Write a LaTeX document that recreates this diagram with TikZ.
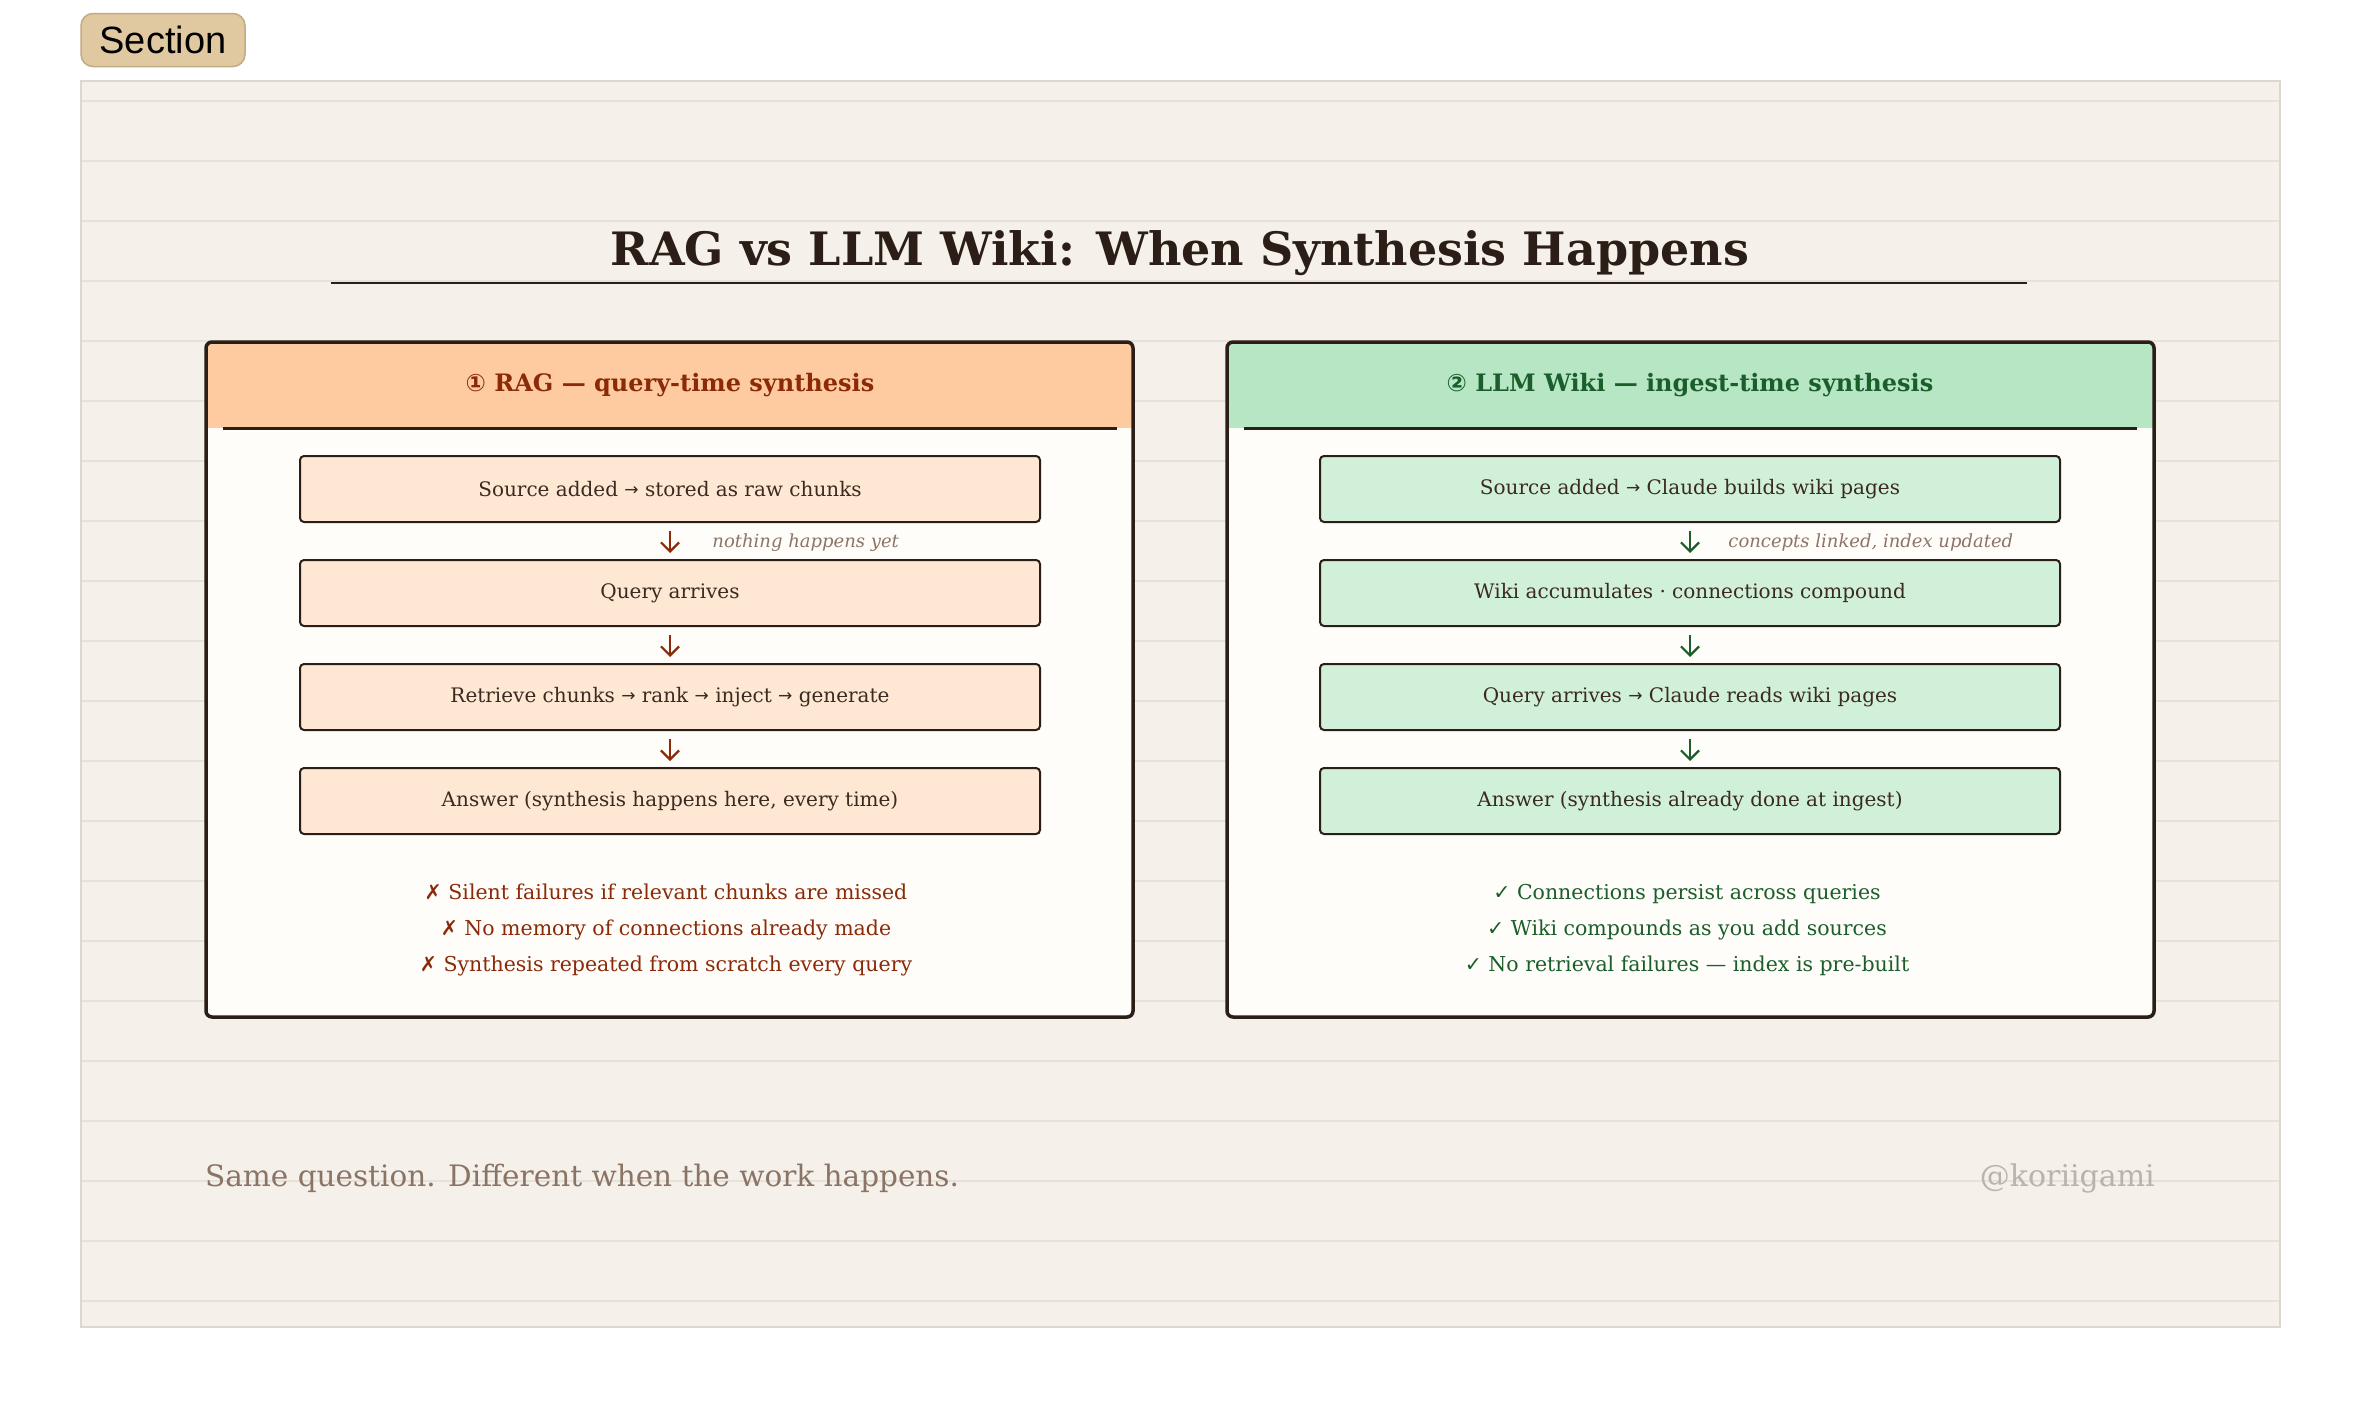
\documentclass[tikz,border=0pt]{standalone}
\usepackage{fontspec}
\setmainfont{DejaVu Serif}
\newfontfamily\badgefont{Liberation Sans}
\newfontfamily\symfont{DejaVu Sans}
\usetikzlibrary{arrows.meta,positioning}
\definecolor{paper}{HTML}{F5F0EA}
\definecolor{edge}{HTML}{DCD7CF}
\definecolor{ruleline}{HTML}{E6E1D9}
\definecolor{badge}{HTML}{E0C9A0}
\definecolor{badgeedge}{HTML}{C4AA80}
\definecolor{ink}{HTML}{2A1E16}
\definecolor{cardbody}{HTML}{FFFDF9}
\definecolor{raghead}{HTML}{FECBA0}
\definecolor{ragbody}{HTML}{FEE8D3}
\definecolor{wikihead}{HTML}{B6E6C4}
\definecolor{wikibody}{HTML}{D1F0DA}
\definecolor{rag}{HTML}{8A2A08}
\definecolor{wiki}{HTML}{1B5E2B}
\definecolor{boxtext}{HTML}{3B2A20}
\definecolor{notegray}{HTML}{8C7466}
\definecolor{footgray}{HTML}{8A7466}
\definecolor{handlegray}{HTML}{BBB3AB}
\newcommand{\arr}{ \raisebox{0.5pt}{\symfont\fontsize{17}{17}\selectfont →} }
\begin{document}
\begin{tikzpicture}[x=1pt, y=-1pt, node distance=36pt,
  rule/.style={draw=ruleline, line width=2pt},
  card/.style={draw=ink, line width=3.5pt, rounded corners=6pt},
  stepbox/.style={draw=ink, line width=2pt, rounded corners=4pt, minimum width=740pt, minimum height=66pt, inner sep=0pt, text=boxtext, font=\fontsize{20}{24}\selectfont},
  ragbox/.style={stepbox, fill=ragbody},
  wikibox/.style={stepbox, fill=wikibody},
  flow/.style={-{Straight Barb[length=9pt,width=18pt]}, line width=2.2pt, shorten <=8pt, shorten >=6pt},
  note/.style={font=\fontsize{18}{20}\selectfont\itshape, text=notegray, anchor=west},
  head/.style={font=\fontsize{24}{28}\selectfont\bfseries},
  pros/.style={align=center, font=\fontsize{20.5}{36}\selectfont}]
\fill[white] (0,0) rectangle (2360,1408);
\useasboundingbox (0,0) rectangle (2360,1408);
\node[fill=badge, draw=badgeedge, line width=1.5pt, rounded corners=12pt, minimum width=164pt, minimum height=53pt, text=black, font=\badgefont\fontsize{38}{40}\selectfont] (badge) at (163,40) {Section};
\fill[paper] (81,81) rectangle (2280,1327);
\foreach \k in {0,...,20}
  \draw[rule] (81,{100.7+60*\k}) -- (2280,{100.7+60*\k});
\draw[edge, line width=1.5pt] (81,81) rectangle (2280,1327);
\node[anchor=base, text=ink, font=\fontsize{46}{54}\selectfont\bfseries] (title) at (1180,265) {RAG vs LLM Wiki: When Synthesis Happens};
\draw[ink, line width=2pt] (331,283) -- (2027,283);
\begin{scope}
  \clip[rounded corners=6pt] (206,342) rectangle (1133,1017);
  \fill[cardbody] (206,342) rectangle (1133,1017);
  \fill[raghead] (206,342) rectangle (1133,428);
\end{scope}
\begin{scope}
  \clip[rounded corners=6pt] (1227,342) rectangle (2154,1017);
  \fill[cardbody] (1227,342) rectangle (2154,1017);
  \fill[wikihead] (1227,342) rectangle (2154,428);
\end{scope}
\draw[card] (206,342) rectangle (1133,1017);
\draw[card] (1227,342) rectangle (2154,1017);
\draw[ink, line width=3pt] (223,428) -- (1117,428);
\draw[ink, line width=3pt] (1244,428) -- (2137,428);
\node[head, text=rag] (raghd) at (670,385) {{\symfont ①} RAG — query-time synthesis};
\node[head, text=wiki] (wikihd) at (1690,385) {{\symfont ②} LLM Wiki — ingest-time synthesis};
\node[ragbox] (r1) at (670,489) {Source added\arr stored as raw chunks};
\node[ragbox, below=of r1] (r2) {Query arrives};
\node[ragbox, below=of r2] (r3) {Retrieve chunks\arr rank\arr inject\arr generate};
\node[ragbox, below=of r3] (r4) {Answer (synthesis happens here, every time)};
\draw[flow, draw=rag] (r1) -- node[note, right=38pt, yshift=-2pt] {nothing happens yet} (r2);
\draw[flow, draw=rag] (r2) -- (r3);
\draw[flow, draw=rag] (r3) -- (r4);
\node[wikibox] (w1) at (1690,489) {Source added\arr Claude builds wiki pages};
\node[wikibox, below=of w1] (w2) {Wiki accumulates · connections compound};
\node[wikibox, below=of w2] (w3) {Query arrives\arr Claude reads wiki pages};
\node[wikibox, below=of w3] (w4) {Answer (synthesis already done at ingest)};
\draw[flow, draw=wiki] (w1) -- node[note, right=34pt, yshift=-2pt] {concepts linked, index updated} (w2);
\draw[flow, draw=wiki] (w2) -- (w3);
\draw[flow, draw=wiki] (w3) -- (w4);
\node[pros, text=rag] (ragcons) at (666,930) {{\symfont ✗}\ Silent failures if relevant chunks are missed\\{\symfont ✗}\ No memory of connections already made\\{\symfont ✗}\ Synthesis repeated from scratch every query};
\node[pros, text=wiki] (wikipros) at (1687,930) {{\symfont ✓}\ Connections persist across queries\\{\symfont ✓}\ Wiki compounds as you add sources\\{\symfont ✓}\ No retrieval failures — index is pre-built};
\node[anchor=base west, inner sep=0pt, text=footgray, font=\fontsize{29.5}{34}\selectfont] (tagline) at (205,1186) {Same question. Different when the work happens.};
\node[anchor=base east, inner sep=0pt, text=handlegray, font=\fontsize{30}{34}\selectfont] (handle) at (2155,1186) {@koriigami};
\end{tikzpicture}
\end{document}
